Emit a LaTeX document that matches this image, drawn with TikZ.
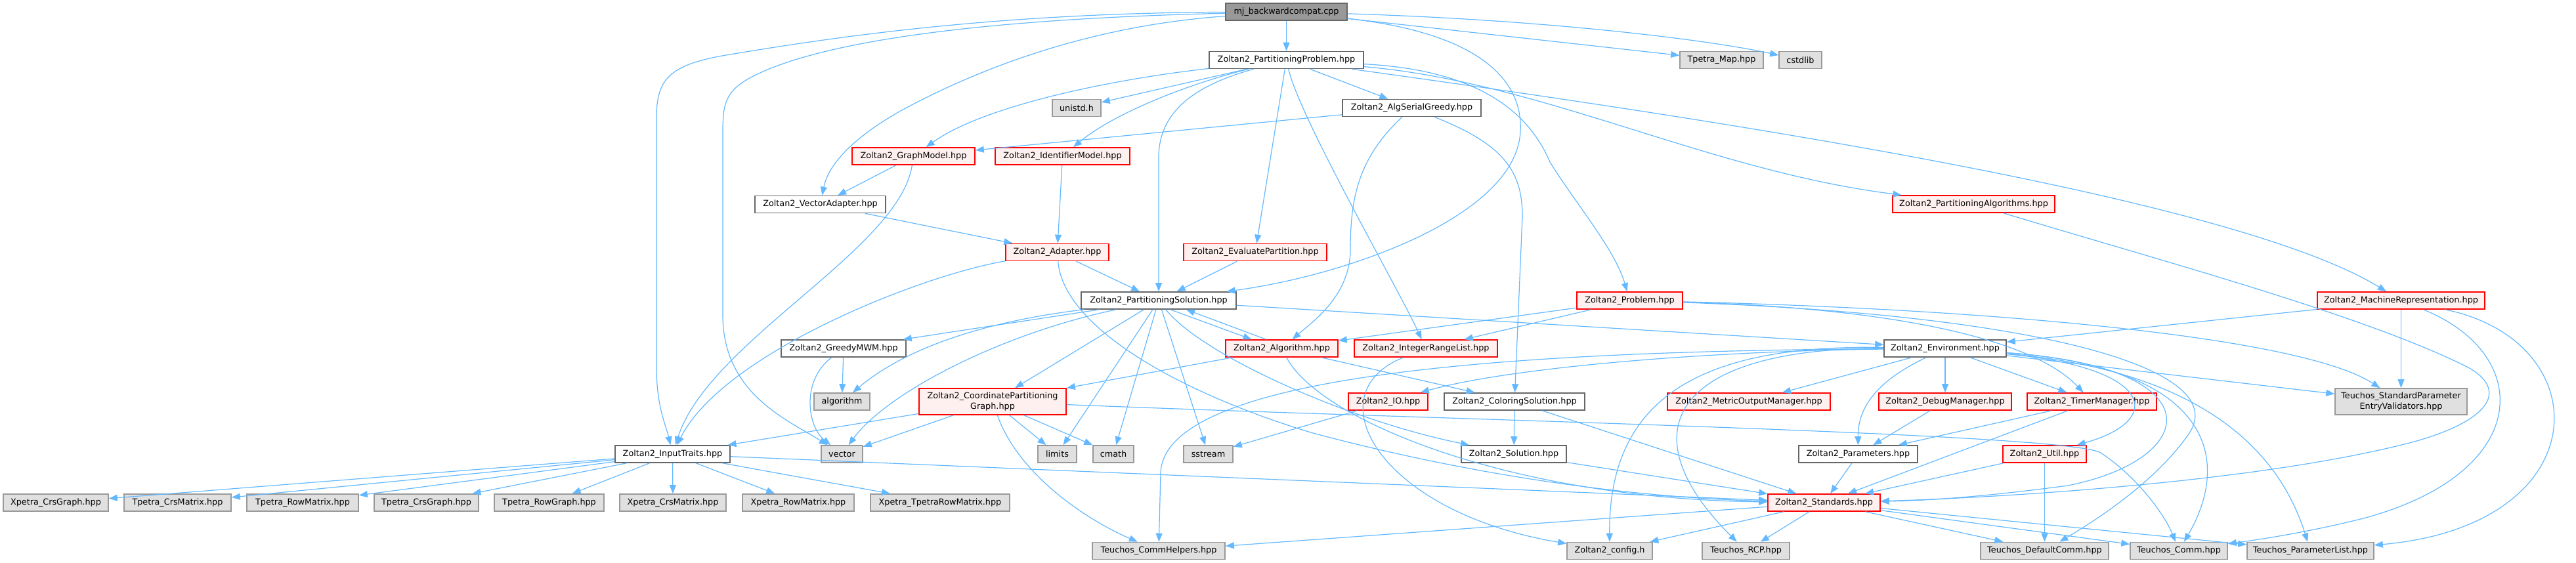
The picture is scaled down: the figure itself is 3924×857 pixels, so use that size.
\documentclass[tikz,border=0pt]{standalone}
\usepackage{fontspec}
\setmainfont{DejaVu Sans}
\usetikzlibrary{arrows.meta}
\definecolor{edgeblue}{HTML}{63B8FF}
\definecolor{redfill}{HTML}{FFF0F0}
\definecolor{leaffill}{HTML}{E0E0E0}
\tikzset{
  hdr/.style={rectangle, draw=black!60, fill=white, line width=0.8pt, inner sep=0pt,
    minimum height=13pt, align=center, font=\fontsize{6.4}{7.8}\selectfont},
  redhdr/.style={hdr, draw=red, fill=redfill},
  syshdr/.style={hdr, draw=black!40, fill=leaffill},
  roothdr/.style={hdr, draw=black!60, fill=black!40},
  dep/.style={draw=edgeblue, line width=0.6pt, -{Triangle[length=6.5pt,width=5pt]}},
}
\def\incnode(#1,#2,#3,#4,#5,#6){
  \node[#5, minimum width=#4*0.5pt] (#1) at (#2,#3) {#6};
}

\begin{document}
\begin{tikzpicture}[x=0.5pt, y=-0.5pt]
\useasboundingbox (0,0) rectangle (3924,857);
% files, row by row
\incnode(mj,1959.5,18,185,roothdr,mj\_backwardcompat.cpp)
\incnode(pprob,1959.5,91.5,235,hdr,Zoltan2\_PartitioningProblem.hpp)
\incnode(tmap,2622.5,91.5,127,syshdr,Tpetra\_Map.hpp)
\incnode(cstdlib,2742.5,91.5,65,syshdr,cstdlib)
\incnode(unistd,1640,164.5,74,syshdr,unistd.h)
\incnode(asgreedy,2150.5,164.5,211,hdr,Zoltan2\_AlgSerialGreedy.hpp)
\incnode(gmodel,1391.5,238,187,redhdr,Zoltan2\_GraphModel.hpp)
\incnode(idmodel,1618.5,238,205,redhdr,Zoltan2\_IdentifierModel.hpp)
\incnode(palgs,3006.5,311,247,redhdr,Zoltan2\_PartitioningAlgorithms.hpp)
\incnode(vadapt,1249.5,311.5,199,hdr,Zoltan2\_VectorAdapter.hpp)
\incnode(adapter,1610.5,384.5,157,redhdr,Zoltan2\_Adapter.hpp)
\incnode(evalp,1912,384.5,218,redhdr,Zoltan2\_EvaluatePartition.hpp)
\incnode(psol,1765,458,236,hdr,Zoltan2\_PartitioningSolution.hpp)
\incnode(problem,2482.5,458,161,redhdr,Zoltan2\_Problem.hpp)
\incnode(mrep,3657.5,458,255,redhdr,Zoltan2\_MachineRepresentation.hpp)
\incnode(gmwm,1285,531,190,hdr,Zoltan2\_GreedyMWM.hpp)
\incnode(alg,1952.5,531,171,redhdr,Zoltan2\_Algorithm.hpp)
\incnode(irl,2172,531,218,redhdr,Zoltan2\_IntegerRangeList.hpp)
\incnode(env,2963,531,186,hdr,Zoltan2\_Environment.hpp)
\incnode(algo,1282.5,612,85,syshdr,algorithm)
\incnode(cpg,1512,612,224,{redhdr,minimum height=20pt},Zoltan2\_CoordinatePartitioning\\Graph.hpp)
\incnode(io,2114.5,612,121,redhdr,Zoltan2\_IO.hpp)
\incnode(colsol,2307,612,214,hdr,Zoltan2\_ColoringSolution.hpp)
\incnode(mom,2664,612,248,redhdr,Zoltan2\_MetricOutputManager.hpp)
\incnode(debug,2963,612,202,redhdr,Zoltan2\_DebugManager.hpp)
\incnode(timer,3186.5,612,197,redhdr,Zoltan2\_TimerManager.hpp)
\incnode(spev,3657.5,612,201,{syshdr,minimum height=20pt},Teuchos\_StandardParameter\\EntryValidators.hpp)
\incnode(traits,1024.5,692,175,hdr,Zoltan2\_InputTraits.hpp)
\incnode(vector,1282.5,692,63,syshdr,vector)
\incnode(limits,1610.5,692,59,syshdr,limits)
\incnode(cmath,1696,692,62,syshdr,cmath)
\incnode(sstream,1840.5,692,75,syshdr,sstream)
\incnode(sol,2306,692,160,hdr,Zoltan2\_Solution.hpp)
\incnode(params,2830.5,692,181,hdr,Zoltan2\_Parameters.hpp)
\incnode(util,3114.5,692,127,redhdr,Zoltan2\_Util.hpp)
\incnode(xcg,85,766,160,syshdr,Xpetra\_CrsGraph.hpp)
\incnode(tcm,270.5,766,163,syshdr,Tpetra\_CrsMatrix.hpp)
\incnode(trm,461,766,170,syshdr,Tpetra\_RowMatrix.hpp)
\incnode(tcg,649.5,766,159,syshdr,Tpetra\_CrsGraph.hpp)
\incnode(trg,836.5,766,167,syshdr,Tpetra\_RowGraph.hpp)
\incnode(xcm,1025,766,162,syshdr,Xpetra\_CrsMatrix.hpp)
\incnode(xrm,1216,766,170,syshdr,Xpetra\_RowMatrix.hpp)
\incnode(xtrm,1432,766,212,syshdr,Xpetra\_TpetraRowMatrix.hpp)
\incnode(stdh,2778.5,766,171,redhdr,Zoltan2\_Standards.hpp)
\incnode(commh,1765,839.5,202,syshdr,Teuchos\_CommHelpers.hpp)
\incnode(config,2452,839.5,130,syshdr,Zoltan2\_config.h)
\incnode(rcp,2659.5,839.5,133,syshdr,Teuchos\_RCP.hpp)
\incnode(dcomm,3114.5,839.5,195,syshdr,Teuchos\_DefaultComm.hpp)
\incnode(comm,3319,839.5,148,syshdr,Teuchos\_Comm.hpp)
\incnode(plist,3519.5,839.5,193,syshdr,Teuchos\_ParameterList.hpp)
% includes of the source file
\draw[dep] (mj) -- (pprob);
\draw[dep] (mj) -- (tmap);
\draw[dep] (mj) .. controls (2350,30) and (2600,60) .. (cstdlib);
\draw[dep] (mj) .. controls (1500,20) and (1250,60) .. (1100,85) .. controls (1020,100) and (1000,120) .. (1000,180) -- (1000,560) .. controls (1000,620) and (1015,650) .. (traits);
\draw[dep] (mj) .. controls (1450,30) and (1230,70) .. (1140,120) .. controls (1105,140) and (1101,160) .. (1101,200) -- (1101,480) .. controls (1101,600) and (1200,640) .. (vector);
\draw[dep] (mj) .. controls (1650,40) and (1480,110) .. (1370,170) .. controls (1300,210) and (1262,250) .. (vadapt);
\draw[dep] (mj) .. controls (2250,50) and (2320,120) .. (2316,200) .. controls (2310,330) and (2050,420) .. (psol);
% problem header
\draw[dep] (pprob) -- (unistd);
\draw[dep] (pprob) .. controls (1700,120) and (1500,160) .. (gmodel);
\draw[dep] (pprob) .. controls (1820,125) and (1700,170) .. (idmodel);
\draw[dep] (pprob) .. controls (1820,130) and (1765,170) .. (1765,240) -- (psol);
\draw[dep] (pprob) -- (evalp);
\draw[dep] (pprob) .. controls (1980,180) and (2130,440) .. (irl);
\draw[dep] (pprob) -- (asgreedy);
\draw[dep] (pprob) .. controls (2220,105) and (2320,150) .. (2361,247) .. controls (2400,310) and (2460,380) .. (problem);
\draw[dep] (pprob) .. controls (2350,125) and (2600,260) .. (palgs);
\draw[dep] (pprob) .. controls (2600,180) and (3400,300) .. (mrep);
\draw[dep] (asgreedy) -- (gmodel);
\draw[dep] (asgreedy) .. controls (2070,240) and (2057,300) .. (2057,380) .. controls (2057,450) and (2000,490) .. (alg);
\draw[dep] (asgreedy) .. controls (2290,220) and (2319,260) .. (2319,330) -- (colsol);
% models and adapters
\draw[dep] (gmodel) -- (vadapt);
\draw[dep] (gmodel) .. controls (1370,380) and (1080,520) .. (traits);
\draw[dep] (idmodel) -- (adapter);
\draw[dep] (vadapt) -- (adapter);
\draw[dep] (adapter) -- (psol);
\draw[dep] (adapter) .. controls (1400,420) and (1100,540) .. (traits);
\draw[dep] (adapter) .. controls (1620,500) and (1800,600) .. (2000,660) .. controls (2300,740) and (2550,760) .. (stdh);
\draw[dep] (evalp) -- (psol);
% solution
\draw[dep] (psol) -- (gmwm);
\draw[dep] (psol) .. controls (1500,490) and (1380,530) .. (algo);
\draw[dep] (psol) .. controls (1520,510) and (1350,600) .. (vector);
\draw[dep] (psol) -- (cpg);
\draw[dep] (psol) -- (limits);
\draw[dep] (psol) -- (cmath);
\draw[dep] (psol) -- (sstream);
\draw[dep] (psol) .. controls (1830,540) and (2050,640) .. (sol);
\draw[dep] ([xshift=9pt]psol.south) -- ([xshift=-23pt]alg.north);
\draw[dep] ([xshift=-12pt]alg.north) -- ([xshift=21pt]psol.south);
\draw[dep] (psol) -- (env);
\draw[dep] (gmwm) -- (algo);
\draw[dep] (gmwm) .. controls (1220,580) and (1230,650) .. (vector);
\draw[dep] (alg) -- (cpg);
\draw[dep] (alg) .. controls (2010,640) and (2300,760) .. (stdh);
\draw[dep] (alg) -- (colsol);
\draw[dep] (irl) .. controls (2000,600) and (2100,780) .. (config);
% problem base
\draw[dep] (problem) -- (alg);
\draw[dep] (problem) -- (irl);
\draw[dep] (problem) .. controls (2900,470) and (3100,520) .. (timer);
\draw[dep] (problem) .. controls (3000,470) and (3500,510) .. (spev);
\draw[dep] (problem) .. controls (3100,480) and (3400,560) .. (3335,660) .. controls (3280,740) and (3180,800) .. (dcomm);
\draw[dep] (mrep) -- (env);
\draw[dep] (mrep) -- (spev);
\draw[dep] (mrep) .. controls (3860,540) and (3860,720) .. (3600,790) .. controls (3500,815) and (3420,825) .. (comm);
\draw[dep] (mrep) .. controls (3960,520) and (3960,800) .. (plist);
\draw[dep] (palgs) .. controls (3300,400) and (3600,480) .. (3760,560) .. controls (3830,600) and (3780,650) .. (3650,680) .. controls (3400,740) and (3000,760) .. (stdh);
% environment
\draw[dep] (env) .. controls (2600,535) and (2300,560) .. (io);
\draw[dep] (env) .. controls (2300,535) and (1775,570) .. (1768,720) -- (commh);
\draw[dep] (env) .. controls (2600,525) and (2450,600) .. (config);
\draw[dep] (env) .. controls (2560,530) and (2470,650) .. (rcp);
\draw[dep] (env) -- (mom);
\draw[dep] (env) .. controls (2860,580) and (2830,620) .. (params);
\draw[dep] (env) -- (debug);
\draw[dep] (env) -- (timer);
\draw[dep] (env) -- (spev);
\draw[dep] (env) .. controls (3280,560) and (3300,640) .. (util);
\draw[dep] (env) .. controls (3370,560) and (3400,700) .. (comm);
\draw[dep] (env) .. controls (3300,560) and (3460,650) .. (plist);
\draw[dep] (env) .. controls (3380,560) and (3350,700) .. (3150,740) .. controls (3000,760) and (2920,763) .. (stdh);
% lower rows
\draw[dep] (colsol) -- (sol);
\draw[dep] (colsol) -- (stdh);
\draw[dep] (sol) -- (stdh);
\draw[dep] (params) -- (stdh);
\draw[dep] (debug) -- (params);
\draw[dep] (timer) -- (params);
\draw[dep] (timer) -- (stdh);
\draw[dep] (util) -- (stdh);
\draw[dep] (util) -- (dcomm);
\draw[dep] (io) -- (sstream);
\draw[dep] (cpg) -- (traits);
\draw[dep] (cpg) -- (vector);
\draw[dep] (cpg) -- (limits);
\draw[dep] (cpg) -- (cmath);
\draw[dep] (cpg) .. controls (1550,720) and (1650,790) .. (commh);
\draw[dep] (cpg) .. controls (2200,640) and (3150,660) .. (3200,690) .. controls (3260,730) and (3300,790) .. (comm);
\draw[dep] (traits) -- (xcg);
\draw[dep] (traits) -- (tcm);
\draw[dep] (traits) -- (trm);
\draw[dep] (traits) -- (tcg);
\draw[dep] (traits) -- (trg);
\draw[dep] (traits) -- (xcm);
\draw[dep] (traits) -- (xrm);
\draw[dep] (traits) -- (xtrm);
\draw[dep] (traits) -- (stdh);
\draw[dep] (stdh) -- (commh);
\draw[dep] (stdh) -- (config);
\draw[dep] (stdh) -- (rcp);
\draw[dep] (stdh) -- (dcomm);
\draw[dep] (stdh) -- (comm);
\draw[dep] (stdh) -- (plist);
\end{tikzpicture}
\end{document}
